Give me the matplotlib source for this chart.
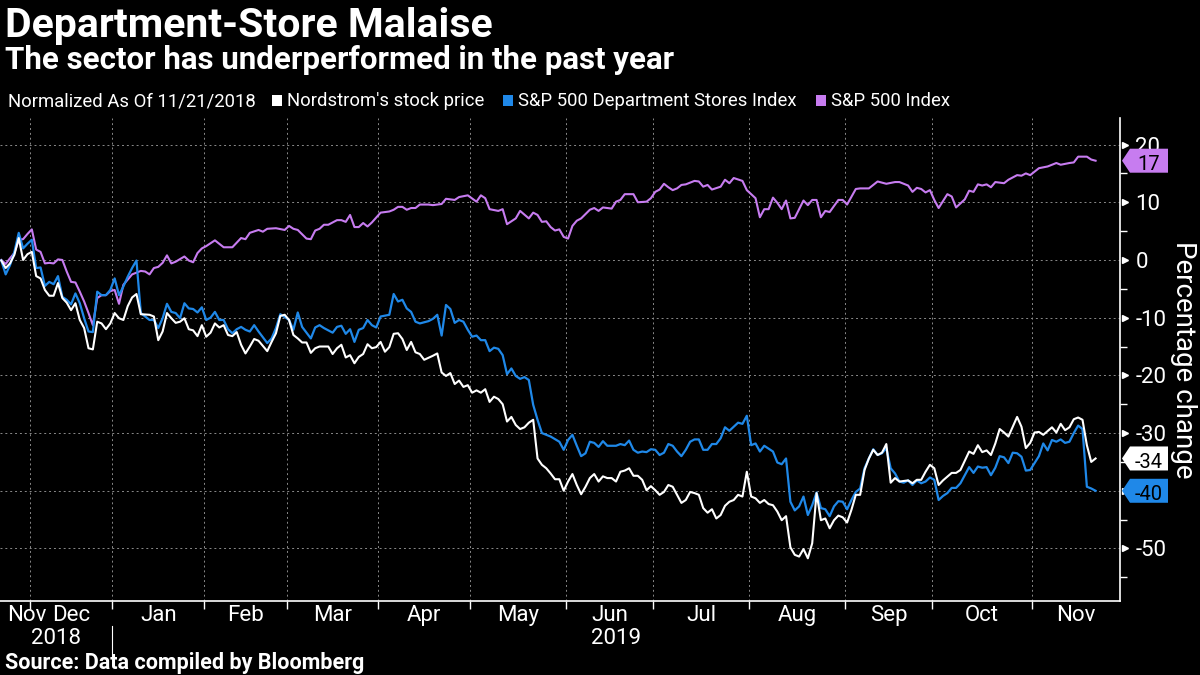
import numpy as np
import matplotlib
matplotlib.use("Agg")
import matplotlib.pyplot as plt
from matplotlib import transforms
from matplotlib.patches import Polygon, Rectangle

# trading days counted from 2018-11-21 (index 0), values in % change
sp_days = [0, 1, 2, 3, 4, 5, 6, 7, 8, 9, 10, 11, 12, 13, 14, 15, 16, 17, 18, 19, 20, 21, 22, 23, 24, 25, 26, 27, 28, 29, 30,
           32, 33, 34, 35, 36, 37, 38, 39, 40, 42, 43, 44, 45, 46, 47, 49, 51, 52, 53, 55, 56, 57, 59, 60, 61, 63, 65, 66,
           67, 68, 70, 71, 72, 73, 74, 75, 77, 78, 79, 80, 81, 82, 83, 84, 85, 87, 89, 90, 91, 92, 93, 94, 95, 96, 98, 99,
           101, 102, 103, 104, 105, 107, 109, 110, 111, 112, 114, 115, 116, 118, 119, 121, 122, 123, 124, 125, 126, 127,
           128, 129, 130, 131, 132, 133, 135, 136, 137, 138, 140, 141, 142, 143, 145, 146, 148, 149, 150, 151, 152, 153,
           154, 155, 156, 157, 159, 160, 161, 162, 163, 165, 166, 167, 168, 170, 171, 173, 174, 175, 176, 177, 178, 179,
           180, 181, 182, 184, 185, 186, 187, 188, 189, 190, 192, 193, 194, 196, 197, 199, 201, 203, 205, 206, 208, 209,
           210, 211, 212, 213, 214, 215, 217, 218, 219, 221, 222, 223, 224, 225, 226, 227, 228, 230, 231, 233, 234, 235,
           236, 238, 240, 242, 243, 245, 246, 247, 249, 250, 251]
sp_vals = [0.0, -0.7, 0.3, 1.2, 3.5, 3.6, 4.5, 5.3, 1.8, 1.4, -0.6, -0.5, -0.6, 0.1, 0.0, -2.0, -3.8, -3.9, -5.5, -7.2, -9.2,
           -11.3, -6.6, -6.1, -6.1, -5.4, -5.2, -7.6, -4.3, -3.4, -2.5, -1.9, -2.0, -2.5, -1.4, -1.2, -0.5, 0.8, -0.6, -0.3,
           0.6, -0.1, -0.4, 1.2, 2.0, 2.4, 3.4, 2.2, 2.2, 2.2, 3.8, 3.6, 4.7, 5.2, 4.9, 5.4, 5.5, 5.2, 5.9, 5.4, 5.2, 3.7,
           3.6, 5.1, 5.4, 6.1, 6.1, 6.9, 6.9, 6.6, 7.8, 5.7, 5.7, 6.4, 5.8, 6.5, 8.2, 8.4, 8.7, 9.2, 9.2, 8.7, 9.0, 9.0,
           9.6, 9.6, 9.5, 9.7, 10.6, 10.5, 10.4, 10.9, 11.2, 10.1, 11.2, 10.7, 8.8, 8.5, 8.8, 6.2, 7.2, 8.5, 7.2, 8.2, 7.8,
           6.6, 6.7, 5.7, 5.1, 5.3, 4.0, 3.7, 5.9, 6.8, 7.2, 8.7, 9.0, 8.5, 9.1, 8.9, 10.1, 10.4, 11.4, 11.4, 10.0, 10.1,
           10.7, 11.8, 12.2, 13.2, 12.6, 12.1, 12.4, 13.0, 13.1, 13.7, 13.6, 12.7, 13.0, 12.2, 12.7, 13.9, 13.3, 14.2,
           13.7, 12.1, 10.7, 7.4, 8.8, 8.8, 10.8, 9.9, 8.8, 10.3, 7.2, 7.3, 10.3, 9.5, 10.4, 10.4, 7.4, 8.5, 8.3, 10.4,
           10.4, 9.6, 12.3, 12.4, 12.4, 13.6, 13.2, 13.5, 13.5, 12.9, 11.8, 12.5, 12.3, 11.7, 12.1, 10.4, 9.0, 11.4,
           11.0, 9.1, 10.5, 12.0, 11.8, 13.1, 12.9, 13.1, 12.6, 13.5, 13.3, 13.9, 14.7, 14.6, 15.0, 14.7, 15.9, 16.2,
           16.8, 16.5, 16.8, 16.9, 17.9, 17.9, 17.4, 17.2]

dept_days = [0, 1, 2, 3, 4, 5, 6, 7, 8, 9, 10, 11, 12, 13, 14, 15, 16, 17, 18, 19, 20, 21, 22, 23, 24, 25, 26, 27, 28, 29,
             30, 31, 32, 34, 35, 36, 37, 38, 39, 40, 41, 42, 43, 44, 45, 46, 47, 48, 49, 50, 51, 52, 53, 54, 55, 56, 57,
             58, 59, 61, 62, 63, 64, 65, 66, 67, 68, 69, 71, 72, 73, 74, 76, 77, 78, 79, 80, 81, 82, 83, 84, 85, 86, 87,
             89, 90, 91, 92, 93, 94, 95, 96, 98, 99, 100, 101, 102, 103, 104, 105, 106, 107, 108, 109, 110, 111, 112,
             113, 114, 115, 116, 117, 118, 119, 120, 121, 122, 123, 124, 125, 126, 128, 129, 130, 131, 132, 133, 134,
             135, 136, 137, 138, 139, 141, 142, 143, 144, 145, 146, 147, 148, 149, 150, 151, 152, 153, 154, 155, 156,
             157, 158, 159, 160, 161, 162, 163, 164, 165, 166, 167, 168, 169, 170, 171, 172, 173, 174, 175, 177, 178,
             179, 180, 181, 182, 183, 184, 185, 186, 187, 188, 189, 190, 191, 192, 193, 194, 195, 196, 197, 198, 199,
             200, 201, 202, 203, 204, 205, 206, 207, 208, 209, 210, 211, 212, 213, 214, 215, 216, 217, 218, 219, 220,
             222, 223, 224, 225, 226, 227, 228, 229, 230, 231, 232, 233, 234, 235, 236, 238, 239, 240, 241, 242, 243,
             244, 245, 246, 247, 248, 249, 250, 251]
dept_vals = [-0.1, -2.5, -0.9, 1.4, 4.7, 2.0, 2.8, 3.5, -1.4, -1.3, -4.5, -3.8, -4.2, -2.8, -6.4, -6.9, -7.7, -5.8, -7.5,
             -10.1, -12.4, -12.5, -5.5, -6.1, -6.1, -5.2, -3.2, -6.1, -4.6, -2.9, -1.4, -0.1, -9.2, -10.4, -10.4, -11.8,
             -10.1, -7.6, -9.0, -9.2, -10.1, -7.5, -8.4, -8.5, -9.1, -8.2, -10.4, -10.0, -9.0, -10.4, -10.4, -12.0,
             -12.7, -12.0, -11.6, -12.1, -12.4, -11.3, -12.4, -14.4, -13.6, -11.8, -9.4, -9.9, -10.4, -12.1, -9.1,
             -11.6, -13.6, -11.7, -11.3, -11.8, -12.6, -11.6, -11.4, -12.8, -12.0, -14.2, -12.1, -11.8, -10.4, -11.3,
             -11.7, -9.8, -9.5, -5.9, -7.2, -6.9, -8.4, -9.0, -10.7, -11.0, -10.6, -10.2, -9.5, -13.1, -7.8, -8.5,
             -10.9, -10.4, -10.7, -12.1, -13.3, -13.1, -13.9, -13.9, -15.8, -15.2, -15.4, -16.5, -19.8, -18.8, -20.1,
             -20.6, -20.3, -20.8, -25.1, -27.7, -30.0, -30.3, -30.6, -31.5, -32.9, -31.2, -30.3, -32.2, -34.0, -33.5,
             -31.5, -31.7, -32.4, -31.4, -32.2, -32.2, -31.9, -32.1, -31.3, -32.9, -33.4, -33.2, -33.3, -32.8, -32.9,
             -33.8, -33.4, -31.9, -32.2, -33.2, -34.0, -32.9, -31.5, -31.1, -31.1, -32.9, -32.9, -31.9, -31.9, -30.9,
             -29.0, -29.6, -28.9, -28.2, -28.4, -27.0, -32.1, -31.8, -33.2, -32.2, -33.2, -35.1, -35.4, -34.4, -41.9,
             -43.4, -42.7, -41.0, -44.2, -42.5, -40.3, -43.0, -43.2, -44.4, -42.7, -41.8, -41.9, -43.2, -41.6, -40.2,
             -39.6, -36.1, -34.4, -32.8, -33.8, -33.5, -32.6, -36.1, -37.0, -38.4, -38.6, -38.2, -39.0, -38.2, -38.7,
             -38.4, -37.7, -38.1, -41.6, -40.9, -40.4, -39.5, -39.5, -38.7, -35.9, -36.9, -35.8, -36.0, -35.9, -37.3,
             -36.0, -34.0, -34.2, -35.2, -33.4, -33.5, -34.1, -36.5, -36.4, -34.0, -31.8, -33.0, -31.2, -31.5, -31.1,
             -31.7, -31.5, -30.0, -28.7, -29.3, -39.3, -39.6, -40.0]

jwn_days = [0, 1, 2, 3, 4, 5, 6, 7, 8, 9, 10, 11, 12, 13, 14, 15, 16, 17, 18, 19, 20, 21, 22, 23, 24, 25, 26, 27, 28, 29,
            30, 31, 32, 34, 35, 36, 37, 38, 39, 40, 41, 42, 43, 44, 45, 46, 47, 48, 49, 50, 51, 52, 53, 54, 55, 56, 57,
            58, 59, 60, 61, 62, 63, 64, 65, 66, 67, 68, 69, 70, 71, 72, 73, 75, 76, 77, 78, 79, 80, 81, 82, 83, 84, 85,
            86, 87, 88, 89, 90, 91, 92, 93, 94, 95, 96, 97, 99, 100, 101, 102, 103, 104, 105, 106, 107, 108, 109, 110,
            111, 112, 113, 114, 115, 116, 117, 118, 119, 120, 121, 122, 123, 124, 125, 126, 127, 128, 129, 130, 131,
            132, 133, 134, 135, 136, 137, 138, 139, 140, 141, 142, 143, 144, 145, 146, 147, 148, 149, 150, 151, 152,
            153, 154, 155, 156, 157, 158, 159, 160, 161, 162, 163, 164, 165, 166, 167, 168, 169, 170, 171, 172, 173,
            174, 175, 176, 177, 178, 179, 180, 181, 182, 183, 184, 185, 186, 187, 188, 189, 190, 191, 192, 193, 194,
            195, 196, 197, 198, 199, 200, 201, 202, 203, 204, 205, 206, 208, 209, 210, 211, 212, 213, 214, 215, 216,
            218, 219, 220, 222, 223, 224, 225, 226, 227, 228, 229, 230, 231, 233, 234, 235, 236, 237, 238, 239, 241,
            242, 243, 244, 245, 246, 247, 248, 249, 250, 251]
jwn_vals = [-0.1, -1.4, -0.6, 0.9, 3.8, 0.0, 1.0, 1.4, -2.8, -3.2, -5.2, -6.2, -6.2, -4.0, -6.6, -7.4, -8.7, -7.5, -10.4,
            -11.8, -15.3, -15.5, -10.7, -11.0, -12.0, -11.0, -9.2, -10.1, -10.4, -8.0, -6.5, -5.9, -9.4, -9.5, -9.8,
            -13.9, -12.4, -9.2, -10.1, -10.9, -10.7, -10.1, -12.0, -12.2, -13.2, -11.3, -13.3, -12.6, -11.0, -11.7,
            -11.3, -13.0, -13.2, -12.5, -14.7, -16.2, -15.0, -13.7, -14.0, -14.9, -15.8, -14.2, -12.7, -9.7, -9.5,
            -10.4, -13.0, -13.6, -14.3, -14.3, -16.1, -15.3, -15.0, -15.0, -16.3, -15.3, -14.7, -16.9, -16.5, -17.9,
            -16.8, -16.3, -14.6, -15.3, -15.1, -14.2, -15.9, -15.1, -12.8, -12.7, -13.7, -15.6, -14.2, -16.0, -16.3,
            -17.3, -16.6, -16.2, -19.5, -20.1, -19.6, -21.5, -20.9, -22.0, -21.7, -23.0, -22.6, -23.0, -22.4, -24.6,
            -23.7, -24.1, -25.0, -28.0, -27.2, -28.6, -29.3, -29.0, -28.2, -27.7, -34.4, -35.5, -36.1, -37.0, -38.0,
            -38.0, -40.0, -38.4, -37.1, -39.0, -40.6, -39.3, -37.8, -37.1, -38.4, -37.5, -37.8, -37.8, -38.4, -36.7,
            -36.5, -36.1, -37.4, -37.4, -38.1, -39.9, -39.2, -39.9, -40.7, -40.2, -39.0, -39.3, -40.7, -42.1, -41.6,
            -40.2, -40.4, -40.7, -43.0, -43.8, -43.2, -44.8, -44.2, -42.6, -41.9, -41.6, -40.7, -41.0, -36.7, -41.0,
            -41.3, -42.1, -41.6, -42.3, -42.5, -43.6, -45.1, -44.4, -49.8, -51.1, -51.4, -50.1, -51.7, -49.1, -40.4,
            -45.1, -44.8, -46.5, -45.1, -44.3, -44.6, -45.5, -43.3, -40.7, -40.7, -36.4, -34.4, -32.9, -33.8, -33.4,
            -31.9, -38.6, -37.8, -38.4, -38.2, -38.7, -38.1, -38.1, -36.7, -35.5, -36.1, -39.0, -38.2, -36.9, -36.9,
            -36.4, -33.2, -33.6, -32.1, -33.3, -33.0, -33.8, -31.8, -29.3, -29.9, -30.6, -27.2, -28.9, -32.6, -31.7,
            -29.9, -29.8, -30.3, -29.0, -29.9, -28.4, -29.5, -29.0, -27.6, -27.3, -27.7, -32.1, -35.0, -34.4]

start_date = "2018-11-21"
nyse_holidays = ["2018-11-22", "2018-12-05", "2018-12-25", "2019-01-01", "2019-01-21", "2019-02-18",
                 "2019-04-19", "2019-05-27", "2019-07-04", "2019-09-02"]
month_starts = ["2018-12-01", "2019-01-01", "2019-02-01", "2019-03-01", "2019-04-01", "2019-05-01",
                "2019-06-01", "2019-07-01", "2019-08-01", "2019-09-01", "2019-10-01", "2019-11-01"]
month_labels = ["Nov", "Dec", "Jan", "Feb", "Mar", "Apr", "May", "Jun", "Jul", "Aug", "Sep", "Oct", "Nov"]
y_ticks = [-50, -40, -30, -20, -10, 0, 10, 20]

WHITE = "#ffffff"
BLUE = "#1f88e8"
PURPLE = "#c77cf0"
GRID = "#8a8a8a"
FONT = "Roboto"

plt.rcParams["font.family"] = [FONT, "DejaVu Sans"]

W, H = 1200, 675
fig = plt.figure(figsize=(12, 6.75), dpi=100, facecolor="black")
ax_left, ax_right, ax_top, ax_bottom = 0, 1120, 118, 601
ax = fig.add_axes([ax_left / W, 1 - ax_bottom / H, (ax_right - ax_left) / W, (ax_bottom - ax_top) / H])
ax.set_facecolor("black")

x_max = 256.6
ax.set_xlim(-0.3, x_max)
ax.set_ylim(-59.1, 24.6)

# month boundaries in trading-day units
bounds = np.busday_count(np.datetime64(start_date),
                         np.array(month_starts, dtype="datetime64[D]"),
                         holidays=nyse_holidays) - 0.5

ax.plot(sp_days, sp_vals, color=PURPLE, lw=1.5, zorder=3)
ax.plot(dept_days, dept_vals, color=BLUE, lw=1.6, zorder=4)
ax.plot(jwn_days, jwn_vals, color=WHITE, lw=1.5, zorder=5)

# grid
for b in bounds:
    ax.axvline(b, color=GRID, lw=0.7, ls=(0, (2, 3)), zorder=1)
for t in y_ticks:
    ax.axhline(t, color=GRID, lw=0.7, ls=(0, (2, 3)), zorder=1)

for side in ["top", "left"]:
    ax.spines[side].set_visible(False)
for side in ["right", "bottom"]:
    ax.spines[side].set_color(WHITE)
    ax.spines[side].set_linewidth(1.2)

# right y axis; the -40 label sits under the blue value tag, as in the original
ax.yaxis.tick_right()
ax.set_yticks(y_ticks)
ax.set_yticks(np.arange(-55, 25, 10), minor=True)
ax.tick_params(axis="y", which="major", length=0, pad=11, labelsize=16, labelcolor=WHITE)
ax.tick_params(axis="y", which="minor", length=5, width=1, color=WHITE, direction="out")
ax.set_yticklabels(["" if t == -40 else str(t) for t in y_ticks])
tri = transforms.blended_transform_factory(ax.transAxes, ax.transData)
ax.plot([1 + 5 / 1120] * len(y_ticks), y_ticks, ls="none", marker=">", ms=4.5, color=WHITE,
        transform=tri, clip_on=False)

# bottom x axis
ax.set_xticks(bounds)
ax.set_xticklabels([])
ax.tick_params(axis="x", which="major", length=6, width=1, color=WHITE, direction="out")

xt = transforms.blended_transform_factory(ax.transData, ax.transAxes)
edges = [ax.get_xlim()[0]] + list(bounds) + [x_max]
px = (ax_bottom - ax_top)
for i, name in enumerate(month_labels):
    mid = (edges[i] + edges[i + 1]) / 2
    if i == 0:
        ax.text(7 / 1120, -4 / px, name, transform=ax.transAxes, ha="left", va="top",
                color=WHITE, fontsize=16)
    else:
        ax.text(mid, -4 / px, name, transform=xt, ha="center", va="top", color=WHITE, fontsize=16)
ax.text((edges[0] + bounds[1]) / 2, -27 / px, "2018", transform=xt, ha="center", va="top",
        color=WHITE, fontsize=16)
ax.text((bounds[1] + x_max) / 2, -27 / px, "2019", transform=xt, ha="center", va="top",
        color=WHITE, fontsize=16)
ax.plot([bounds[1], bounds[1]], [-25 / px, -55 / px], color=WHITE, lw=0.8, transform=xt, clip_on=False)

# value tags at the right axis
fig.canvas.draw()
for vals, col in [(sp_vals, PURPLE), (jwn_vals, WHITE), (dept_vals, BLUE)]:
    last = vals[-1]
    xd, yd = tri.transform((1.0, last))
    xd += 2
    hh, tip, wd = 12, 8, 46
    poly = Polygon([(xd, yd), (xd + tip, yd + hh), (xd + wd, yd + hh), (xd + wd, yd - hh), (xd + tip, yd - hh)],
                   closed=True, facecolor=col, edgecolor="none", transform=transforms.IdentityTransform(), zorder=10)
    fig.add_artist(poly)
    fig.text(xd + tip + (wd - tip) / 2, yd - 2, f"{round(last):d}", transform=transforms.IdentityTransform(),
             ha="center", va="center_baseline", color="black", fontsize=14.5, zorder=11)

fig.text(1183 / W, 1 - 360 / H, "Percentage change", rotation=-90, ha="center", va="center",
         color=WHITE, fontsize=20)

# titles
fig.text(5 / W, 1 - 37 / H, "Department-Store Malaise", ha="left", va="baseline", color=WHITE,
         fontsize=29.5, fontweight="bold")
fig.text(5 / W, 1 - 69 / H, "The sector has underperformed in the past year", ha="left", va="baseline",
         color=WHITE, fontsize=22.5, fontweight="bold")

# legend row
fig.text(8 / W, 1 - 106 / H, "Normalized As Of 11/21/2018", ha="left", va="baseline", color=WHITE, fontsize=13.3)
for sx, col, label in [(272, WHITE, "Nordstrom's stock price"), (503, BLUE, "S&P 500 Department Stores Index"),
                       (816, PURPLE, "S&P 500 Index")]:
    fig.add_artist(Rectangle((sx / W, 1 - 106 / H), 10 / W, 11 / H, facecolor=col, edgecolor="none",
                             transform=fig.transFigure))
    fig.text((sx + 15) / W, 1 - 106 / H, label, ha="left", va="baseline", color=WHITE, fontsize=13.3)

fig.text(5 / W, 1 - 669 / H, "Source: Data compiled by Bloomberg", ha="left", va="baseline", color=WHITE,
         fontsize=15.5, fontweight="bold")

fig.savefig("out.png", dpi=100, facecolor="black")
